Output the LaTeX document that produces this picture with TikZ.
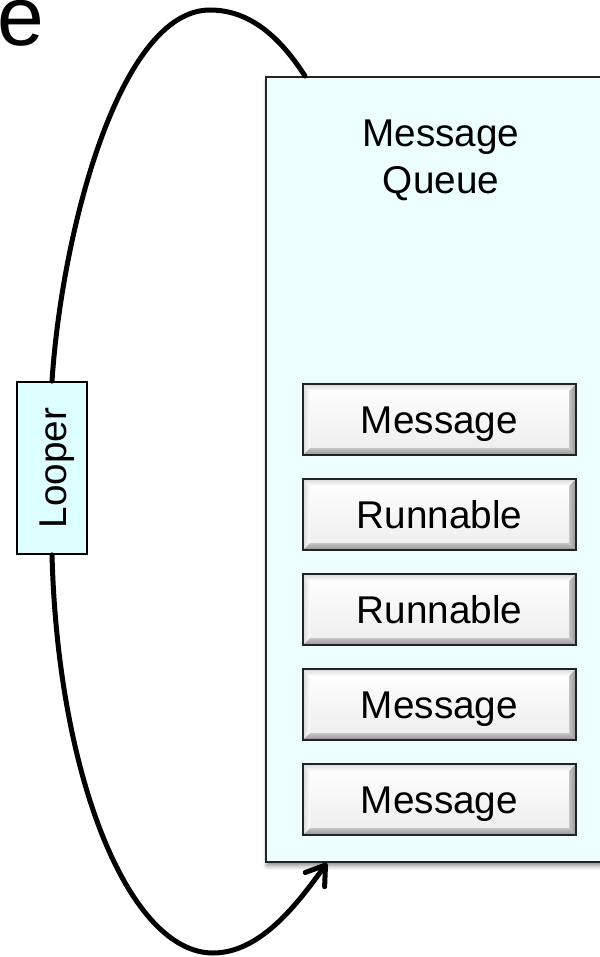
\documentclass[tikz,border=0pt]{standalone}
\usepackage{fontspec}
\setmainfont{Liberation Sans}
\usetikzlibrary{arrows.meta,shadows.blur}
\definecolor{qfill}{RGB}{236,254,254}
\definecolor{lfill}{RGB}{221,255,255}
\definecolor{edge}{RGB}{35,35,35}
\tikzset{
  bigtext/.style={font=\fontsize{38.7}{47}\selectfont},
  queuebox/.style={draw=edge, line width=1.8pt, fill=qfill,
    blur shadow={shadow xshift=1pt, shadow yshift=-4pt, shadow blur radius=4pt, shadow opacity=45}},
  loopbox/.style={bigtext, draw=black, line width=1.8pt, fill=lfill,
    minimum width=172pt, minimum height=70pt, inner sep=0pt, text height=28pt, text depth=0pt},
  btn/.style={bigtext, draw=edge, line width=2.2pt, minimum width=273pt, minimum height=71pt,
    inner sep=0pt, text height=28pt, text depth=0pt,
    path picture={
      \shade[top color=white, bottom color=gray!14]
        ([shift={(7pt,-7pt)}]path picture bounding box.north west) rectangle
        ([shift={(-7pt,7pt)}]path picture bounding box.south east);
      \shade[top color=gray!30, bottom color=white]
        (path picture bounding box.north west) -- (path picture bounding box.north east)
        -- ([shift={(-7pt,-7pt)}]path picture bounding box.north east)
        -- ([shift={(7pt,-7pt)}]path picture bounding box.north west) -- cycle;
      \shade[left color=gray!30, right color=white]
        (path picture bounding box.north west) -- ([shift={(7pt,-7pt)}]path picture bounding box.north west)
        -- ([shift={(7pt,7pt)}]path picture bounding box.south west)
        -- (path picture bounding box.south west) -- cycle;
      \shade[left color=gray!45, right color=gray!85]
        (path picture bounding box.north east) -- (path picture bounding box.south east)
        -- ([shift={(-7pt,7pt)}]path picture bounding box.south east)
        -- ([shift={(-7pt,-7pt)}]path picture bounding box.north east) -- cycle;
      \shade[top color=gray!45, bottom color=gray!85]
        (path picture bounding box.south west) -- ([shift={(7pt,7pt)}]path picture bounding box.south west)
        -- ([shift={(-7pt,7pt)}]path picture bounding box.south east)
        -- (path picture bounding box.south east) -- cycle;
    }},
  flow/.style={line width=5pt, line cap=round},
}
\begin{document}
\begin{tikzpicture}[x=1pt,y=-1pt]
\useasboundingbox (0,0) rectangle (599,957);
\node[font=\fontsize{84}{84}\selectfont, anchor=base east, inner sep=0pt] (title) at (44,46) {e};
\node[queuebox, minimum width=345pt, minimum height=785pt, anchor=north west, inner sep=0pt] (queue) at (265,76) {};
\node[bigtext, anchor=north, align=center, inner sep=0pt] (qlabel) at (441,119.5) {Message\\Queue};
\node[btn] (m1) at (439.5,419.5) {Message};
\node[btn] (m2) at (439.5,514.5) {Runnable};
\node[btn] (m3) at (439.5,609.5) {Runnable};
\node[btn] (m4) at (439.5,704.5) {Message};
\node[btn] (m5) at (439.5,799.5) {Message};
\node[loopbox, rotate=90] (looper) at (52,468) {Looper};
\coordinate (peak) at (210,10);
\coordinate (qtop) at (305,76);
\coordinate (bottom) at (213,953);
\coordinate (tip) at (327,863);
\draw[flow] (looper.east) .. controls (62,230) and (120,10) .. (peak)
  .. controls (255,10) and (285,45) .. (qtop);
\draw[flow, -{Straight Barb[length=18pt,width=24pt,round]}] (looper.west)
  .. controls (58,780) and (130,953) .. (bottom)
  .. controls (262,953) and (300,900) .. (tip);
\end{tikzpicture}
\end{document}
